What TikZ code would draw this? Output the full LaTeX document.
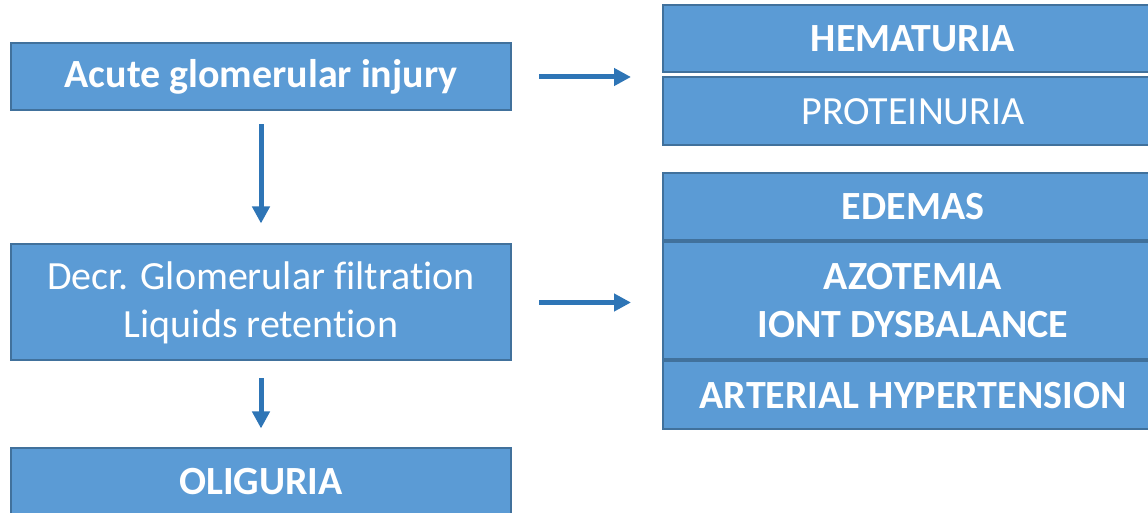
\documentclass[tikz,border=0pt]{standalone}
\usepackage{fontspec}
\setmainfont{Carlito}[Ligatures=NoCommon]
\usepackage{tikz}
\usetikzlibrary{arrows.meta,positioning}
\definecolor{boxblue}{HTML}{5B9BD5}
\definecolor{boxedge}{HTML}{41719C}
\definecolor{arrblue}{HTML}{2E75B6}

\begin{document}
\begin{tikzpicture}[
  x=0.5pt, y=-0.5pt,
  box/.style={
    rectangle, draw=boxedge, fill=boxblue, line width=1pt, text=white,
    minimum width=250pt, minimum height=33.5pt, inner sep=0pt,
    font=\fontsize{20}{24}\selectfont, align=center
  },
  bbox/.style={box, font=\fontsize{20}{24}\selectfont\bfseries},
  arr/.style={-{Triangle[length=8.5pt,width=8.5pt]}, line width=2.5pt, arrblue},
  node distance=0pt
]
  \useasboundingbox (0,0) rectangle (1148,513);
  \clip (0,0) rectangle (1148,513);

  % left column
  \node[bbox] (inj) at (261,77) {Acute glomerular injury};
  \node[box, minimum height=58pt, below=66pt of inj] (gfr)
    {Decr. Glomerular filtration\\Liquids retention};
  \node[bbox, below=43pt of gfr] (olig) {OLIGURIA};

  % right column
  \node[bbox] (hem) at (913,39) {HEMATURIA};
  \node[box, minimum height=34pt, below=1.5pt of hem] (prot) {PROTEINURIA};
  \node[bbox] (edem) at (913,207) {EDEMAS};
  \node[bbox, minimum height=58.5pt, below=of edem] (azot) {AZOTEMIA\\IONT DYSBALANCE};
  \node[bbox, minimum height=34pt, below=of azot] (hyp) {ARTERIAL HYPERTENSION};

  \draw[arr, shorten <=13.5pt, shorten >=15.5pt] (inj.east) -- (inj.east -| hem.west);
  \draw[arr, shorten <=13.5pt, shorten >=15.5pt] (gfr.east) -- (gfr.east -| azot.west);
  \draw[arr, shorten <=6.5pt, shorten >=10pt] (inj.south) -- (gfr.north);
  \draw[arr, shorten <=8.5pt, shorten >=9.5pt] (gfr.south) -- (olig.north);
\end{tikzpicture}
\end{document}
